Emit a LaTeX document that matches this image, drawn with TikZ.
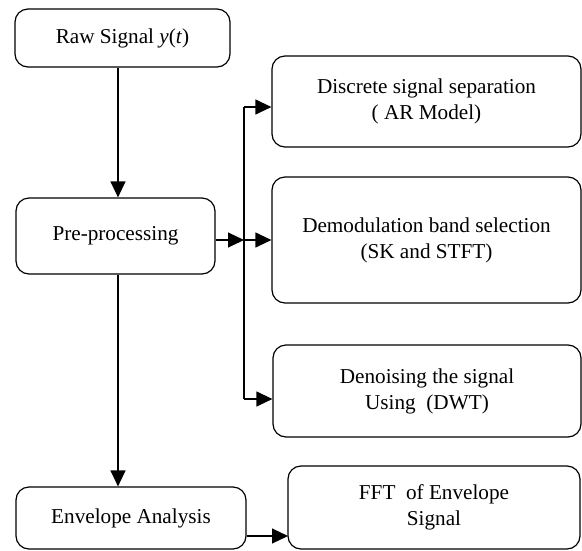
\documentclass[tikz,border=0pt]{standalone}
\usepackage{fontspec}
\setmainfont{Liberation Serif}
\usepackage{tikz}
\usetikzlibrary{arrows.meta}

\begin{document}
\begin{tikzpicture}[x=1pt, y=-1pt, line width=1.2pt,
      every node/.append style={font=\fontsize{21.2}{26}\selectfont,align=center},
      arr/.style={-{Triangle[length=16pt,width=15pt]}}]
    \tikzstyle{block} = [draw,rectangle,rounded corners=13pt,inner sep=0pt]
    \useasboundingbox (0,0) rectangle (582,550);
    % left column
    \node (raw) [block,minimum width=215pt,minimum height=58pt] at (122.5,38) {Raw Signal \textit{y}(\textit{t})};
    \node (pre) [block,minimum width=199pt,minimum height=76pt] at (115.5,236) {Pre-processing};
    \node (env) [block,minimum width=230pt,minimum height=62pt] at (131,518) {Envelope Analysis};
    % right column
    \node (disc) [block,minimum width=309pt,minimum height=91pt] at (426.5,101.5) {Discrete signal separation\\( AR Model)};
    \node (demod) [block,minimum width=309pt,minimum height=126pt] at (426.5,240) {Demodulation band selection\\(SK and STFT)};
    \node (denoise) [block,minimum width=308pt,minimum height=92pt] at (427,391) {Denoising the signal\\Using\ \ (DWT)};
    \node (fft) [block,minimum width=292pt,minimum height=83pt] at (434,507.5) {FFT\ \ of Envelope\\Signal};
    \coordinate (spine) at (118,0);
    \coordinate (split) at (244,240);
    \coordinate (b1) at (244,107);
    \coordinate (b3) at (244,399);
    \coordinate (fftin) at (288,536);
    \draw [arr] (raw.south -| spine) -- (pre.north -| spine);
    \draw [arr] (pre.south -| spine) -- (env.north -| spine);
    \draw [arr] (pre.east |- split) -- (split);
    \draw (b1) -- (b3);
    \draw [arr] (b1) -- (b1 -| disc.west);
    \draw [arr] (split) -- (demod.west);
    \draw [arr] (b3) -- (b3 -| denoise.west);
    \draw [arr] (env.east |- fftin) -- (fftin);
\end{tikzpicture}
\end{document}
